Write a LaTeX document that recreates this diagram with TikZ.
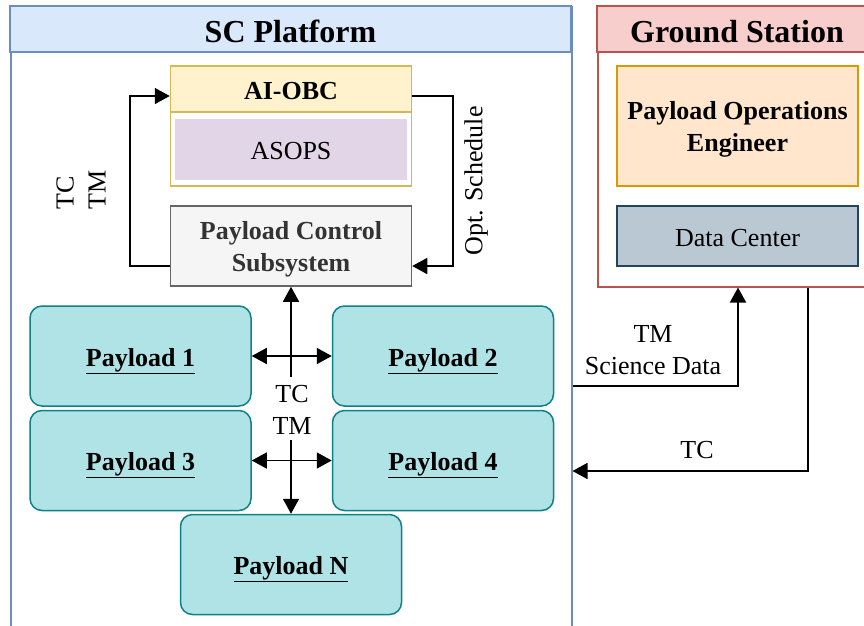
\documentclass[tikz,border=0pt]{standalone}
\usepackage{fontspec}
\setmainfont{Liberation Serif}
\usetikzlibrary{arrows.meta}
\definecolor{scline}{HTML}{6C8EBF}
\definecolor{scfill}{HTML}{DAE8FC}
\definecolor{gsline}{HTML}{B85450}
\definecolor{gsfill}{HTML}{F8CECC}
\definecolor{obcline}{HTML}{D6B656}
\definecolor{obcfill}{HTML}{FFF2CC}
\definecolor{asopsfill}{HTML}{E1D5E7}
\definecolor{pcsline}{HTML}{666666}
\definecolor{pcsfill}{HTML}{F5F5F5}
\definecolor{pcstext}{HTML}{333333}
\definecolor{payline}{HTML}{0E8088}
\definecolor{payfill}{HTML}{B0E3E6}
\definecolor{poeline}{HTML}{D79B00}
\definecolor{poefill}{HTML}{FFE6CC}
\definecolor{dcline}{HTML}{23445D}
\definecolor{dcfill}{HTML}{BAC8D3}
\begin{document}
\begin{tikzpicture}[x=1pt,y=-1pt,
    font=\fontsize{26}{32}\selectfont,
    >={Triangle[length=15pt,width=16pt]},
    frame/.style={draw,line width=1.5pt,inner sep=0pt,anchor=north west},
    head/.style={draw,line width=1.5pt,inner sep=0pt,minimum height=46pt,text height=28pt,text depth=2pt,font=\fontsize{32}{38}\selectfont\bfseries},
    box/.style={draw,line width=1.5pt,inner sep=0pt,align=center},
    oneline/.style={text height=23pt,text depth=3pt},
    twoline/.style={text depth=-2pt},
    pay/.style={box,oneline,rounded corners=12pt,fill=payfill,draw=payline,minimum width=221pt,minimum height=100pt,font=\fontsize{26}{32}\selectfont\bfseries},
    wire/.style={line width=1.6pt}]
    \fill[white] (0,0) rectangle (864,625);
    \useasboundingbox (0,0) rectangle (864,625);
    \node[frame,draw=scline,minimum width=561pt,minimum height=660pt] (sc) at (10,6) {};
    \node[head,draw=scline,fill=scfill,minimum width=561pt] (schead) at (290.5,29) {SC Platform};
    \node[frame,draw=gsline,minimum width=280pt,minimum height=280pt] (gs) at (597,6) {};
    \node[head,draw=gsline,fill=gsfill,minimum width=280pt] (gshead) at (737,29) {Ground Station};
    \node[box,draw=obcline,minimum width=241pt,minimum height=120pt] (obcbox) at (291,126) {};
    \node[box,oneline,draw=obcline,fill=obcfill,minimum width=241pt,minimum height=46pt,font=\fontsize{26}{32}\selectfont\bfseries] (obc) at (291,89) {AI-OBC};
    \node[oneline,fill=asopsfill,minimum width=232pt,minimum height=61pt] (asops) at (291,149.5) {ASOPS};
    \node[box,twoline,draw=pcsline,fill=pcsfill,text=pcstext,minimum width=241pt,minimum height=80pt,font=\fontsize{26}{32}\selectfont\bfseries] (pcs) at (291,246) {Payload Control\\Subsystem};
    \node[box,twoline,draw=poeline,fill=poefill,minimum width=241pt,minimum height=120pt,font=\fontsize{26}{32}\selectfont\bfseries] (poe) at (737.5,126) {Payload Operations\\Engineer};
    \node[box,oneline,draw=dcline,fill=dcfill,minimum width=241pt,minimum height=60pt] (dc) at (737.5,236) {Data Center};
    \foreach \n/\x/\y in {1/140.5/356, 2/443/356, 3/140.5/460.5, 4/443/460.5, N/291/564.5}
        \node[pay] (p\n) at (\x,\y) {\underline{Payload \n}};
    \coordinate (up) at (291,377);
    \coordinate (down) at (291,440);
    \draw[wire,->] ([yshift=-20pt]pcs.west) -- ++(-40,0) |- ([yshift=-7pt]obc.west);
    \draw[wire,->] ([yshift=-7pt]obc.east) -- ++(41,0) |- ([yshift=-20pt]pcs.east);
    \node[rotate=90,align=left] (tctm) at (81,190) {TC\\TM};
    \node[rotate=90] (opt) at (476,181) {Opt. Schedule};
    \draw[wire,<-] (pcs.south) -- (up);
    \draw[wire,->] (down) -- (pN.north);
    \draw[wire,<->] (p1) -- (p2);
    \draw[wire,<->] (p3) -- (p4);
    \node[align=center] (bus) at (292,409.5) {TC\\TM};
    \draw[wire,->] (sc.east |- 0,386) -| (738,0 |- gs.south);
    \draw[wire,->] (808,0 |- gs.south) |- (sc.east |- 0,471);
    \node[align=center] (tmsd) at (653,350.5) {TM\\Science Data};
    \node (tc) at (697,450) {TC};
\end{tikzpicture}
\end{document}
